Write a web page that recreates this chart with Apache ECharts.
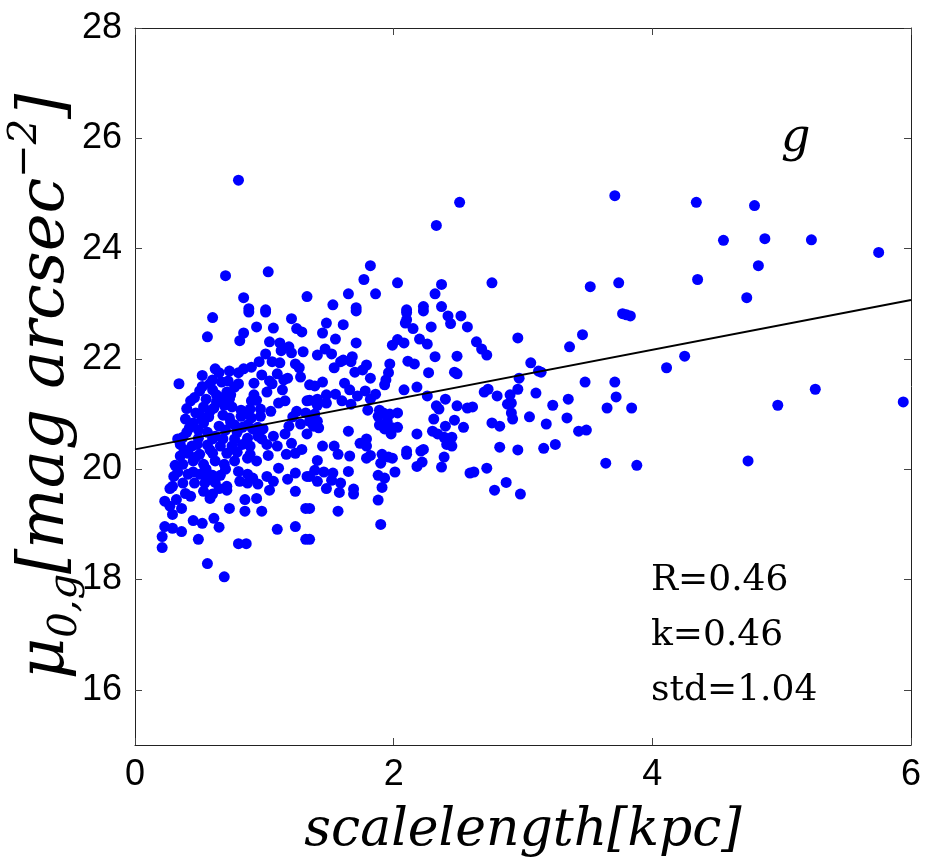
<!DOCTYPE html>
<html>
<head>
<meta charset="utf-8">
<script src="https://cdn.jsdelivr.net/npm/echarts@6/dist/echarts.min.js"></script>
<style>
  html, body { margin: 0; padding: 0; background: #fff; }
  #ch1 { width: 944px; height: 865px; }
</style>
</head>
<body>
<div id="ch1"></div>
<script>
// tick positions
var xTicks = [0, 2, 4, 6];
var yTicks = [16, 18, 20, 22, 24, 26, 28];

// fitted line end points (x, mu)
var fitX = [0, 6];
var fitY = [20.36, 23.07];

// stats text
var statR = '0.46';
var statK = '0.46';
var statStd = '1.04';
var band = 'g';

// scalelength [kpc] vs mu_0,g
var pts = [
  [0.80,25.24],[0.70,23.51],[1.03,23.58],[0.84,23.11],[0.88,22.91],[1.01,22.89],[1.33,23.13],
  [1.82,23.69],[1.77,23.44],[2.03,23.38],[2.37,23.35],[2.32,23.18],[1.65,23.18],[1.86,23.18],
  [1.53,22.98],[1.71,22.93],[2.10,22.89],[2.23,22.95],[2.37,22.95],[2.51,24.84],[2.33,24.42],
  [3.71,24.96],[2.76,23.38],[3.52,23.31],[3.74,23.38],[4.34,24.84],[4.79,24.78],[4.55,24.15],
  [4.87,24.18],[5.23,24.16],[5.75,23.93],[4.82,23.69],[4.35,23.44],[4.73,23.11],[3.83,22.78],
  [4.11,21.84],[4.25,22.05],[3.84,21.11],[4.97,21.16],[5.26,21.45],[5.94,21.22],[3.88,20.07],
  [4.74,20.15],
  [3.77,22.82],[3.80,22.80],[2.96,22.38],[3.46,22.44],[3.36,22.22],[2.64,22.31],[2.68,22.18],
  [2.72,22.07],[2.57,22.58],[3.06,21.93],[3.12,21.78],[3.14,21.76],[2.97,21.65],[2.96,21.45],
  [2.73,21.45],[2.70,21.40],[2.80,21.33],[2.90,21.35],[2.88,21.18],[2.91,21.20],[3.10,21.38],
  [3.35,21.27],[3.23,21.16],[2.61,21.13],[2.91,21.02],[2.92,20.91],[3.05,20.95],[3.34,20.93],
  [2.76,20.84],[2.82,20.78],[3.18,20.82],[3.48,21.58],[3.71,21.58],[3.72,21.31],[3.65,21.11],
  [3.43,20.69],[3.49,20.71],[2.82,20.40],[2.96,20.35],[3.16,20.38],[3.25,20.45],
  [3.64,20.11],[2.62,19.95],[2.72,20.02],[2.87,19.76],[2.78,19.62],[2.98,19.55],
  [1.71,22.87],[2.10,22.84],[2.23,22.87],[2.10,22.71],[2.09,22.65],[1.48,22.65],[1.61,22.62],
  [1.45,22.47],[1.55,22.36],[1.71,22.29],[1.99,22.25],[2.03,22.35],[2.08,22.29],[2.15,22.55],
  [2.20,22.36],[2.26,22.27],[2.29,22.58],[2.42,22.78],[2.44,22.64],[2.52,22.78],[1.41,22.07],
  [1.47,22.18],[1.52,22.09],[1.61,21.98],[1.68,22.04],[1.59,21.95],[1.67,21.95],[1.54,21.84],
  [1.79,21.89],[1.76,21.80],[1.70,21.76],[1.97,21.91],[1.96,21.75],[1.94,21.62],[1.93,21.53],
  [1.82,21.65],[2.11,21.96],[2.16,21.91],[2.32,22.04],[2.49,22.05],[2.27,21.75],[2.47,21.76],
  [2.49,21.73],[2.18,21.49],[2.08,21.44],[1.35,21.53],[1.39,21.51],[1.45,21.58],[1.62,21.56],
  [1.55,21.36],[1.66,21.44],[1.48,21.35],[1.41,21.27],[1.35,21.25],[1.48,21.20],[1.60,21.24],
  [1.72,21.33],[1.78,21.42],[1.86,21.36],[1.82,21.27],[1.67,21.18],[1.80,21.07],[1.89,21.07],
  [1.92,21.02],[1.88,20.96],[1.97,21.00],[2.03,21.02],[1.95,20.87],[2.26,21.33],[2.40,21.27],
  [2.33,21.15],[2.35,21.09],[2.49,21.15],[2.57,21.11],[1.41,21.16],[1.39,21.00],[1.35,20.87],
  [1.41,20.87],[1.42,20.75],[1.38,20.78],[1.89,20.80],[1.93,20.73],[1.99,20.75],[2.03,20.76],
  [1.98,20.64],[2.31,20.91],[2.40,20.78],[2.47,20.89],[2.54,20.76],[2.30,20.69],[2.34,20.64],
  [2.39,20.58],[2.45,20.58],[1.65,20.69],[2.18,20.64],[1.79,20.55],[1.74,20.47],[1.45,20.42],
  [1.54,20.42],[1.79,20.42],[2.10,20.33],[2.23,20.36],[2.41,20.45],[2.45,20.42],
  [1.57,20.27],[1.66,20.24],[1.41,20.16],[1.79,20.20],[1.82,20.25],[1.91,20.27],[1.90,20.11],
  [1.96,20.22],[1.99,20.20],[2.10,20.27],[2.21,20.33],[2.22,20.13],[2.18,20.05],[2.39,20.22],
  [2.37,20.04],[1.39,19.98],[1.46,19.95],[1.53,19.93],[1.65,19.96],[2.01,19.95],[1.88,19.89],
  [1.93,19.84],[1.35,19.87],[1.41,19.78],[1.52,19.80],[1.59,19.75],[1.48,19.65],[1.58,19.58],
  [1.69,19.64],[1.69,19.55],[1.91,19.67],[1.88,19.44],[1.35,19.29],[1.57,19.24],[1.90,19.00],
  [2.59,19.93],[1.35,18.73],
  [0.60,22.75],[0.88,22.85],[1.01,22.85],[1.21,22.73],[0.94,22.58],[1.07,22.56],[1.25,22.55],
  [1.29,22.49],[0.56,22.40],[0.84,22.47],[0.81,22.33],[1.04,22.31],[1.12,22.29],[1.19,22.22],
  [1.13,22.15],[1.21,22.11],[1.30,22.13],[1.01,22.09],[0.96,21.95],[1.06,21.95],[1.12,21.93],
  [1.24,21.91],[1.27,21.84],[0.90,21.85],[0.84,21.82],[0.73,21.78],[0.65,21.75],[0.80,21.75],
  [0.98,21.71],[1.10,21.73],[1.18,21.65],[1.28,21.67],[1.04,21.60],[1.06,21.55],[1.15,21.62],
  [0.92,21.56],[0.34,21.55],[0.60,21.62],[0.58,21.55],[0.67,21.58],[0.77,21.49],[0.50,21.42],
  [0.60,21.44],[0.71,21.40],[0.74,21.35],[1.02,21.40],[1.14,21.44],[0.55,21.27],[0.63,21.22],
  [0.73,21.27],[0.90,21.24],[0.94,21.25],[1.11,21.20],[1.16,21.24],[1.33,21.24],[0.53,21.13],
  [0.61,21.11],[0.75,21.13],[0.82,21.07],[0.89,21.09],[0.97,21.09],[1.05,21.05],[1.25,21.05],
  [1.32,21.02],[0.50,21.00],[0.57,20.95],[0.68,20.98],[0.73,20.93],[0.82,20.96],[0.90,20.93],
  [0.97,20.96],[1.22,20.95],[0.45,20.84],[0.53,20.84],[0.65,20.78],[0.77,20.80],[0.87,20.80],
  [0.95,20.76],[1.19,20.78],[1.28,20.82],[0.40,20.67],[0.49,20.71],[0.56,20.67],[0.70,20.71],
  [0.79,20.67],[0.91,20.73],[0.99,20.73],[1.07,20.60],[1.16,20.64],[1.33,20.64],[0.37,20.58],
  [0.49,20.56],[0.60,20.55],[0.77,20.55],[0.87,20.56],[0.98,20.55],[0.35,20.45],[0.44,20.42],
  [0.56,20.44],[0.66,20.42],[0.75,20.42],[0.89,20.42],[1.02,20.45],[1.10,20.42],[1.21,20.47],
  [1.29,20.36],[0.43,21.24],[0.47,21.02],[0.39,20.91],[0.63,21.35],[0.69,21.16],[0.83,20.76],
  [0.47,20.22],[0.55,20.00],[0.70,20.00],[0.35,20.24],
  [0.33,20.55],[0.42,20.75],[0.52,20.90],[0.58,21.05],[0.66,21.30],[0.72,21.60],[0.52,21.50],
  [0.46,21.30],[0.40,21.10],[0.62,20.60],[0.74,20.85],[0.85,21.00],[0.92,21.35],[0.80,21.55],
  [0.48,20.45],[0.38,20.35],[0.58,20.35],[0.68,20.55],[0.83,20.45],[0.95,20.60],[0.45,19.95],
  [0.55,19.85],[0.65,19.65],[0.33,19.95],[0.52,21.70],[0.62,21.82],
  [0.41,20.29],[0.50,20.27],[0.60,20.29],[0.71,20.29],[0.79,20.31],[0.89,20.27],[1.03,20.25],
  [1.17,20.27],[1.24,20.29],[0.31,20.07],[0.37,20.09],[0.45,20.15],[0.53,20.09],[0.62,20.15],
  [0.69,20.09],[0.77,20.15],[0.87,20.20],[0.94,20.15],[0.30,19.87],[0.41,19.91],[0.50,19.91],
  [0.60,19.89],[0.66,19.89],[0.80,19.96],[0.87,19.91],[0.91,19.84],[1.02,19.87],[1.11,20.02],
  [1.24,19.93],[1.33,19.87],[0.29,19.69],[0.37,19.75],[0.46,19.75],[0.54,19.75],[0.62,19.76],
  [0.71,19.69],[0.81,19.78],[0.87,19.75],[0.95,19.73],[1.07,19.78],[1.18,19.82],[0.27,19.65],
  [0.39,19.56],[0.53,19.60],[0.60,19.55],[0.71,19.62],[1.04,19.62],[1.24,19.60],[0.23,19.42],
  [0.32,19.45],[0.43,19.51],[0.58,19.47],[0.85,19.45],[0.94,19.47],[0.27,19.33],[0.36,19.29],
  [0.73,19.29],[0.85,19.24],[0.98,19.24],[1.32,19.29],[0.29,19.18],[0.45,19.07],[0.52,19.02],
  [0.61,19.11],[0.65,18.95],[0.23,18.96],[0.29,18.93],[0.36,18.87],[1.10,18.91],[1.24,18.96],
  [0.21,18.78],[0.49,18.73],[0.80,18.65],[0.86,18.65],[1.32,18.73],[0.21,18.58],[0.56,18.29],
  [0.69,18.05]
];

window.onload = function() {
  var ch1 = echarts.init(document.getElementById('ch1'));

  var serif = 'DejaVu Serif';
  var fitData = [];
  for (var i = 0; i < fitX.length; i++) {
    fitData.push([fitX[i], fitY[i]]);
  }

  var lineColor = '#222';
  var tickStyle = { color: '#444', width: 1 };

  var op1 = {
    animation: false,
    backgroundColor: '#fff',
    grid: {
      left: 135,
      right: 33,
      top: 28,
      bottom: 120,
      containLabel: false,
      outerBoundsMode: 'none'
    },
    xAxis: [{
      type: 'value',
      min: 0,
      max: 6,
      position: 'bottom',
      axisLine: { show: true, onZero: false, lineStyle: { color: lineColor, width: 1 } },
      axisTick: { show: true, inside: true, length: 7, customValues: xTicks, lineStyle: tickStyle },
      axisLabel: {
        customValues: xTicks,
        margin: 12,
        fontSize: 36,
        fontFamily: 'Liberation Sans',
        color: '#000'
      },
      splitLine: { show: false },
      name: 'scalelength[kpc]',
      nameLocation: 'middle',
      nameGap: 60,
      nameMoveOverlap: false,
      nameTextStyle: {
        fontSize: 52,
        fontFamily: serif,
        fontStyle: 'italic',
        color: '#000'
      }
    }, {
      type: 'value',
      min: 0,
      max: 6,
      position: 'top',
      axisLine: { show: true, onZero: false, lineStyle: { color: lineColor, width: 1 } },
      axisTick: { show: true, inside: true, length: 7, customValues: xTicks, lineStyle: tickStyle },
      axisLabel: { show: false },
      splitLine: { show: false }
    }],
    yAxis: [{
      type: 'value',
      min: 15,
      max: 28,
      position: 'left',
      axisLine: { show: true, onZero: false, lineStyle: { color: lineColor, width: 1 } },
      axisTick: { show: true, inside: true, length: 7, customValues: yTicks, lineStyle: tickStyle },
      axisLabel: {
        customValues: yTicks,
        margin: 13,
        fontSize: 36,
        fontFamily: 'Liberation Sans',
        color: '#000'
      },
      splitLine: { show: false },
      name: '{m|μ}{s|0,g}{m|[mag arcsec}{p|−2}{m|]}',
      nameLocation: 'middle',
      nameRotate: 90,
      nameGap: 49,
      nameMoveOverlap: false,
      nameTextStyle: {
        color: '#000',
        rich: {
          m: { fontSize: 64, fontFamily: serif, fontStyle: 'italic', lineHeight: 80, verticalAlign: 'middle' },
          s: { fontSize: 40, fontFamily: serif, fontStyle: 'italic', lineHeight: 80, verticalAlign: 'bottom' },
          p: { fontSize: 40, fontFamily: serif, fontStyle: 'italic', lineHeight: 80, verticalAlign: 'top' }
        }
      }
    }, {
      type: 'value',
      min: 15,
      max: 28,
      position: 'right',
      axisLine: { show: true, onZero: false, lineStyle: { color: lineColor, width: 1 } },
      axisTick: { show: true, inside: true, length: 7, customValues: yTicks, lineStyle: tickStyle },
      axisLabel: { show: false },
      splitLine: { show: false }
    }],
    graphic: [{
      type: 'text',
      left: 781,
      top: 116,
      style: { text: band, fontSize: 46, fontFamily: serif, fontStyle: 'italic', fill: '#000' }
    }, {
      type: 'text',
      left: 651,
      top: 563,
      style: { text: 'R=' + statR, fontSize: 36, fontFamily: serif, fill: '#000' }
    }, {
      type: 'text',
      left: 651,
      top: 618,
      style: { text: 'k=' + statK, fontSize: 36, fontFamily: serif, fill: '#000' }
    }, {
      type: 'text',
      left: 651,
      top: 673,
      style: { text: 'std=' + statStd, fontSize: 36, fontFamily: serif, fill: '#000' }
    }],
    series: [{
      name: 'galaxies',
      type: 'scatter',
      symbol: 'circle',
      symbolSize: 11,
      itemStyle: { color: '#0000ff', opacity: 1 },
      data: pts,
      z: 2
    }, {
      name: 'fit',
      type: 'line',
      symbol: 'none',
      lineStyle: { color: '#000', width: 2 },
      data: fitData,
      z: 3
    }]
  };

  ch1.setOption(op1);
};
</script>
</body>
</html>
